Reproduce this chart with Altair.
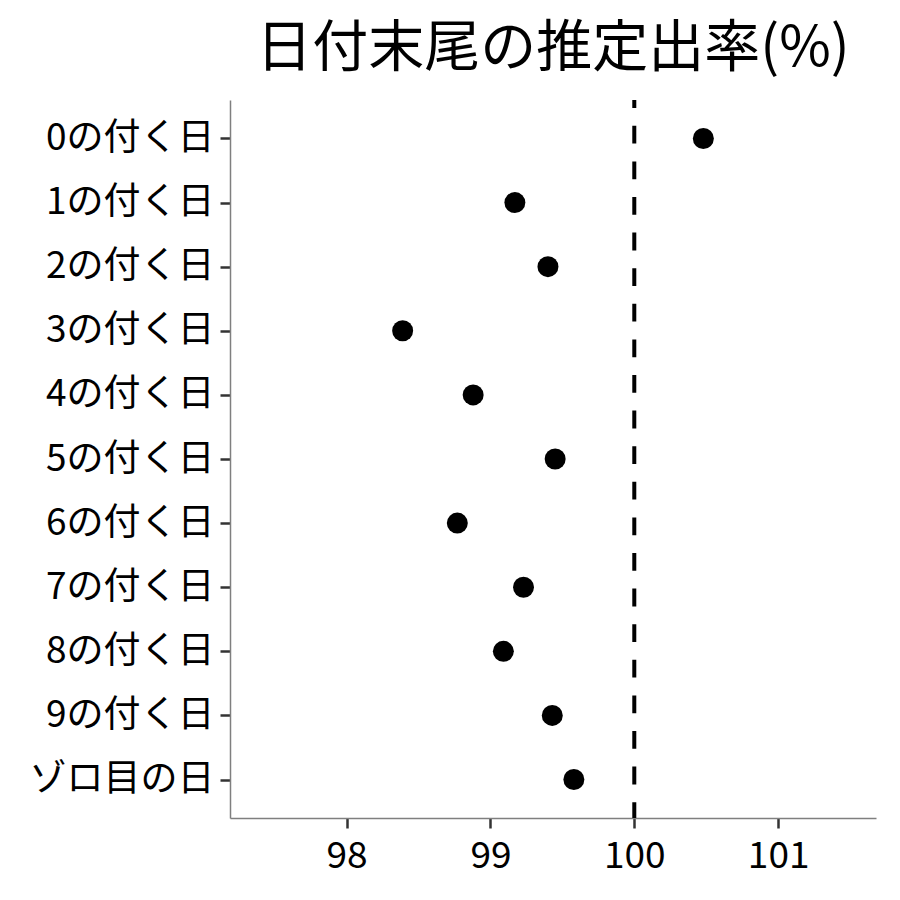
import altair as alt
import pandas as pd

categories = ["0の付く日", "1の付く日", "2の付く日", "3の付く日", "4の付く日",
              "5の付く日", "6の付く日", "7の付く日", "8の付く日", "9の付く日", "ゾロ目の日"]
rates = [100.48, 99.17, 99.40, 98.39, 98.88, 99.45, 98.77, 99.23, 99.09, 99.43, 99.58]
ref_value = [100]
x_ticks = [98, 99, 100, 101]

df = pd.DataFrame({"cat": categories, "rate": rates})
ref = pd.DataFrame({"v": ref_value})

FONT = "Noto Sans CJK JP"

xscale = alt.Scale(domain=[97.19, 101.68], nice=False, zero=False)

points = alt.Chart(df).mark_circle(size=440, color="black", opacity=1).encode(
    x=alt.X("rate:Q", scale=xscale, title=None,
            axis=alt.Axis(values=x_ticks, grid=False, domainColor="#7f7f7f", domainWidth=1.5,
                          tickColor="#333333", tickWidth=2.5, tickSize=10,
                          labelFontSize=37, labelColor="black", labelFont=FONT,
                          labelPadding=10, format="d")),
    y=alt.Y("cat:N", sort=categories, title=None,
            scale=alt.Scale(type="point", padding=0.6),
            axis=alt.Axis(grid=False, domainColor="#7f7f7f", domainWidth=1.5,
                          tickColor="#333333", tickWidth=2.5, tickSize=10,
                          labelFontSize=37, labelColor="black", labelFont=FONT,
                          labelPadding=6, labelLimit=400)),
)

rule = alt.Chart(ref).mark_rule(color="black", strokeWidth=4, strokeDash=[17.8, 17.8],
                                strokeDashOffset=9.8).encode(x=alt.X("v:Q", scale=xscale))

chart = alt.layer(rule, points).properties(
    width=646, height=718,
    background="white",
    autosize=alt.AutoSizeParams(type="none"),
    padding={"left": 222, "top": 92, "right": 16, "bottom": 74},
    title=alt.TitleParams("日付末尾の推定出率(%)", font=FONT, fontSize=56, fontWeight="normal",
                          color="black", anchor="middle", offset=20),
).configure_view(stroke=None, strokeWidth=0)

chart.save("out.html", embed_options={"renderer": "svg", "actions": False})
